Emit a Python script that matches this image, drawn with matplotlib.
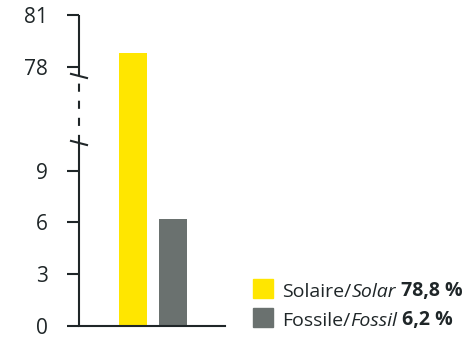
import numpy as np
import matplotlib
matplotlib.use("Agg")
import matplotlib.pyplot as plt
from matplotlib.patches import Rectangle
import matplotlib.transforms as mtransforms

# data
categories = ["Solaire", "Fossile"]
values = [78.8, 6.2]
bar_colors = ["#FFE600", "#6A716F"]
ticks = [0, 3, 6, 9, 78, 81]
legend_fr = ["Solaire/", "Fossile/"]
legend_en = ["Solar", "Fossil"]
legend_pct = ["78,8 %", "6,2 %"]

plt.rcParams["font.family"] = ["Open Sans", "DejaVu Sans"]
dark = "#1f2628"
W, H = 464, 338

# broken axis: low part 0..a, compressed gap, high part b..81
a, b, g = 10.6, 77.47, 3.88


def fwd(v):
    v = np.asarray(v, dtype=float)
    return np.where(v <= a, v, np.where(v >= b, v - b + a + g, a + (v - a) * g / (b - a)))


def inv(u):
    u = np.asarray(u, dtype=float)
    return np.where(u <= a, u, np.where(u >= a + g, u - a - g + b, a + (u - a) * (b - a) / g))


fig = plt.figure(figsize=(W / 100, H / 100), dpi=100)
ax = fig.add_axes([79 / W, 12 / H, (225 - 79) / W, (326 - 15) / H])
ax.set_yscale("function", functions=(fwd, inv))

ax.bar(range(len(values)), values, width=0.7, color=bar_colors, zorder=2)
ax.set_xlim(-1.35, 2.3)
ax.set_ylim(0, 81)

ax.set_yticks(ticks)
ax.set_yticklabels([str(t) for t in ticks])
ax.set_xticks([])
ax.tick_params(axis="y", direction="out", length=8.6, width=1.5, color=dark, pad=14,
               labelsize=15, labelcolor=dark)

for s in ["top", "right", "left"]:
    ax.spines[s].set_visible(False)
ax.spines["bottom"].set_color(dark)
ax.spines["bottom"].set_linewidth(1.5)

# left spine drawn in pieces
tr = mtransforms.blended_transform_factory(ax.transAxes, ax.transData)
ax.plot([0, 0], [0, a], color=dark, lw=1.5, transform=tr, clip_on=False, solid_capstyle="butt")
ax.plot([0, 0], [b, 81], color=dark, lw=1.5, transform=tr, clip_on=False, solid_capstyle="butt")
ax.plot([0, 0], [a, b], color=dark, lw=1.5, transform=tr, clip_on=False,
        linestyle=(0, (3.9, 4.3)))

# break marks
dx = 8 / (225 - 79)
for yv in [a, b]:
    yy = fwd(yv)
    ax.plot([-dx, dx], [inv(yy + 0.12), inv(yy - 0.12)], color=dark, lw=1.5,
            transform=tr, clip_on=False)

# legend
rows_y = [297, 326]
for i in range(len(categories)):
    y0 = rows_y[i]
    fig.add_artist(Rectangle((253 / W, (H - y0 - 1) / H), 20 / W, 19 / H,
                             color=bar_colors[i], transform=fig.transFigure))
    t1 = fig.text(282 / W, (H - y0) / H, legend_fr[i], fontsize=14, color=dark,
                  va="baseline", ha="left")
    t2 = ax.annotate(legend_en[i], xy=(1, 0), xycoords=t1, va="bottom", ha="left",
                     fontsize=14, style="italic", color=dark, annotation_clip=False)
    ax.annotate(" " + legend_pct[i], xy=(1, 0), xycoords=t2, va="bottom", ha="left",
                fontsize=14, weight="bold", color=dark, annotation_clip=False)

fig.savefig("out.png", dpi=100)
